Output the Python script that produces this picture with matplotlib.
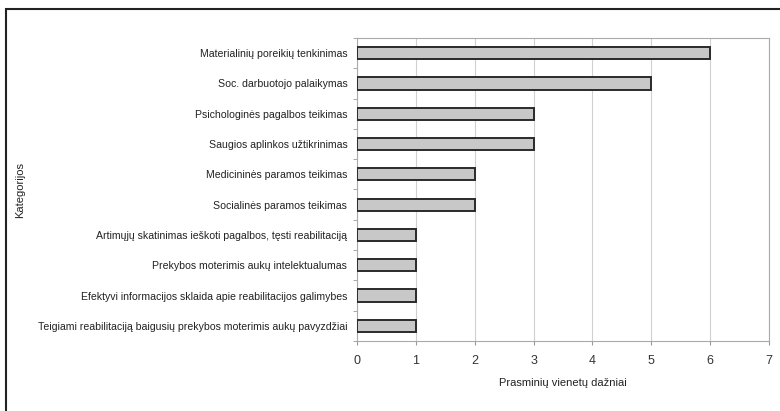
import matplotlib
matplotlib.use("Agg")
import matplotlib.pyplot as plt
from matplotlib.patches import Rectangle
import numpy as np

categories = [
    "Materialinių poreikių tenkinimas",
    "Soc. darbuotojo palaikymas",
    "Psichologinės pagalbos teikimas",
    "Saugios aplinkos užtikrinimas",
    "Medicininės paramos teikimas",
    "Socialinės paramos teikimas",
    "Artimųjų skatinimas ieškoti pagalbos, tęsti reabilitaciją",
    "Prekybos moterimis aukų intelektualumas",
    "Efektyvi informacijos sklaida apie reabilitacijos galimybes",
    "Teigiami reabilitaciją baigusių prekybos moterimis aukų pavyzdžiai",
]
values = [6, 5, 3, 3, 2, 2, 1, 1, 1, 1]
x_ticks = [0, 1, 2, 3, 4, 5, 6, 7]

plt.rcParams["font.family"] = ["Liberation Sans", "DejaVu Sans"]

fig = plt.figure(figsize=(7.8, 4.11), dpi=100)
ax = fig.add_axes([357 / 780, 1 - 341 / 411, (769 - 357) / 780, (341 - 38) / 411])

y = np.arange(len(categories))[::-1]
ax.barh(y, values, height=0.4, color="#c8c8c8", edgecolor="#2a2a2a", linewidth=1.4, zorder=3)

ax.set_xlim(0, 7)
ax.set_ylim(-0.5, len(categories) - 0.5)
ax.set_xticks(x_ticks)
ax.set_xticklabels([str(t) for t in x_ticks], fontsize=9, color="#333333")
ax.set_yticks(y)
ax.set_yticklabels(categories, fontsize=7.6, color="#222222")
ax.tick_params(axis="y", length=0, pad=7)
ax.tick_params(axis="x", length=3, color="#999999", pad=7)
ax.set_yticks(np.arange(-0.5, len(categories), 1), minor=True)
ax.tick_params(axis="y", which="minor", length=3, color="#999999")

ax.grid(axis="x", color="#d0d0d0", linewidth=0.8, zorder=0)
for s in ax.spines.values():
    s.set_color("#aaaaaa")
    s.set_linewidth(0.8)

ax.set_xlabel("Prasminių vienetų dažniai", fontsize=8, color="#222222", labelpad=8)
fig.text(20 / 780, 1 - 190 / 411, "Kategorijos", rotation=90, fontsize=8,
         color="#222222", ha="center", va="center")

frame = Rectangle((6 / 780, -0.2), 1.2, 1 - 9 / 411 + 0.2, transform=fig.transFigure,
                  fill=False, edgecolor="#222222", linewidth=1.5)
fig.patches.append(frame)

fig.savefig("out.png", dpi=100)
